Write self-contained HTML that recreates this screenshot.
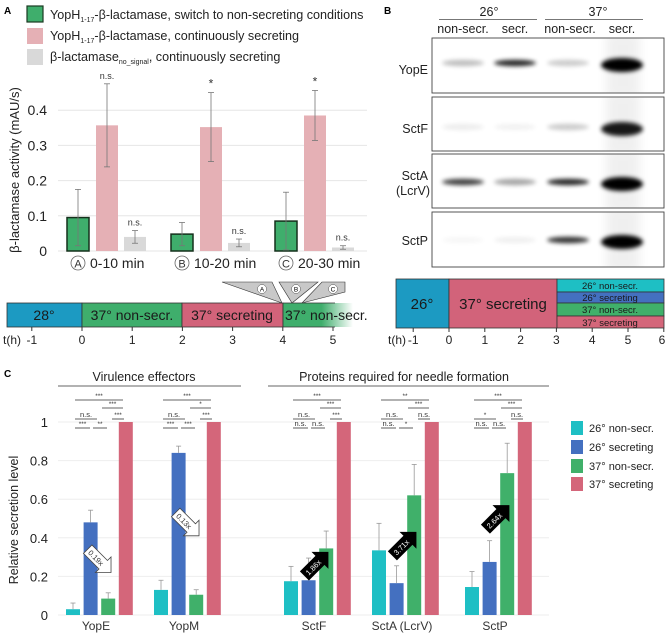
<!DOCTYPE html>
<html><head><meta charset="utf-8"><style>
body{margin:0;background:#fff}
svg{display:block;font-family:"Liberation Sans",Arial,sans-serif}
</style></head><body>
<svg id="s" width="669" height="634" viewBox="0 0 669 634" xmlns="http://www.w3.org/2000/svg">
<defs>
<filter id="bl" x="-50%" y="-200%" width="200%" height="500%"><feGaussianBlur stdDeviation="2.2"/></filter>
<filter id="bl2" x="-50%" y="-100%" width="200%" height="300%"><feGaussianBlur stdDeviation="5"/></filter>
<linearGradient id="fade" x1="0" x2="1"><stop offset="0" stop-color="#3fae6c"/><stop offset="0.55" stop-color="#3fae6c"/><stop offset="1" stop-color="#3fae6c" stop-opacity="0"/></linearGradient>
</defs>
<g id="A">
<text x="4" y="14" font-size="10" font-weight="bold">A</text>
<g>
<rect x="27" y="6" width="16" height="16" fill="#3fae6c" stroke="#1a3a22" stroke-width="1.2"/>
<text x="50" y="19" font-size="12.6" fill="#222">YopH<tspan font-size="7" dy="3">1-17</tspan><tspan dy="-3">-β-lactamase, switch to non-secreting conditions</tspan></text>
<rect x="27" y="28" width="16" height="16" fill="#e5b0b5"/>
<text x="50" y="40" font-size="12.6" fill="#222">YopH<tspan font-size="7" dy="3">1-17</tspan><tspan dy="-3">-β-lactamase, continuously secreting</tspan></text>
<rect x="27" y="49" width="16" height="16" fill="#d9d9d9"/>
<text x="50" y="61" font-size="12.6" fill="#222">β-lactamase<tspan font-size="7" dy="3">no_signal</tspan><tspan dy="-3">, continuously secreting</tspan></text>
</g>
<text transform="translate(19,170) rotate(-90)" text-anchor="middle" font-size="13" fill="#222">β-lactamase activity (mAU/s)</text>
<g id="chartA"></g>
<g id="tlA">
<polygon points="222,282 272,282 282,303" fill="#c8c8c8" stroke="#333" stroke-width="0.6"/>
<polygon points="279,282 318,282 292,303" fill="#c8c8c8" stroke="#333" stroke-width="0.6"/>
<polygon points="322,282 345,282 345,292 302,303" fill="#c8c8c8" stroke="#333" stroke-width="0.6"/>
<circle cx="262" cy="289" r="4.5" fill="#fff" stroke="#555" stroke-width="0.5"/><text x="262" y="291.5" font-size="6.5" text-anchor="middle">A</text>
<circle cx="296" cy="289" r="4.5" fill="#fff" stroke="#555" stroke-width="0.5"/><text x="296" y="291.5" font-size="6.5" text-anchor="middle">B</text>
<circle cx="333" cy="289" r="4.5" fill="#fff" stroke="#555" stroke-width="0.5"/><text x="333" y="291.5" font-size="6.5" text-anchor="middle">C</text>
<rect x="7" y="303" width="75" height="24" fill="#1c9ac2" stroke="#333" stroke-width="0.8"/>
<rect x="82" y="303" width="100" height="24" fill="#3fae6c" stroke="#333" stroke-width="0.8"/>
<rect x="182" y="303" width="101" height="24" fill="#d2637a" stroke="#333" stroke-width="0.8"/>
<rect x="283" y="303" width="70" height="24" fill="url(#fade)"/>
<line x1="283" y1="303" x2="283" y2="327" stroke="#333" stroke-width="0.8"/>
<line x1="283" y1="303" x2="335" y2="303" stroke="#333" stroke-width="0.8"/><line x1="283" y1="327" x2="335" y2="327" stroke="#333" stroke-width="0.8"/>
<g font-size="14" fill="#1a1a1a" text-anchor="middle">
<text x="44" y="320">28°</text><text x="132" y="320">37° non-secr.</text><text x="232" y="320">37° secreting</text><text x="285" y="320" text-anchor="start">37° non-secr.</text>
</g>
<g font-size="12" fill="#222" text-anchor="middle" id="tlAticks"></g>
</g>
</g>

<g id="B">
<text x="384" y="14" font-size="10" font-weight="bold">B</text>
<g font-size="12.5" fill="#222" text-anchor="middle">
<text x="489" y="16">26°</text>
<text x="598" y="16">37°</text>
<text x="463" y="33">non-secr.</text>
<text x="515" y="33">secr.</text>
<text x="570" y="33">non-secr.</text>
<text x="622" y="33">secr.</text>
</g>
<line x1="439" y1="19.5" x2="537" y2="19.5" stroke="#777"/><line x1="545" y1="19.5" x2="643" y2="19.5" stroke="#777"/>
<g id="blots"></g>
<g font-size="12.5" fill="#222" text-anchor="end">
<text x="428" y="74">YopE</text>
<text x="428" y="133">SctF</text>
<text x="428" y="180">SctA</text>
<text x="430" y="195">(LcrV)</text>
<text x="428" y="245">SctP</text>
</g>
<g>
<rect x="396" y="279" width="53" height="49" fill="#1c9ac2" stroke="#333" stroke-width="0.8"/>
<rect x="449" y="279" width="108" height="49" fill="#d2637a" stroke="#333" stroke-width="0.8"/>
<rect x="557" y="279" width="107" height="13" fill="#1ebfc4" stroke="#333" stroke-width="0.8"/>
<rect x="557" y="292" width="107" height="11" fill="#4470c0" stroke="#333" stroke-width="0.8"/>
<rect x="557" y="303" width="107" height="13" fill="#40b06a" stroke="#333" stroke-width="0.8"/>
<rect x="557" y="316" width="107" height="12" fill="#d4667a" stroke="#333" stroke-width="0.8"/>
<g font-size="15" fill="#1a1a1a" text-anchor="middle"><text x="422" y="309">26°</text><text x="503" y="309">37° secreting</text></g>
<g font-size="9.5" fill="#1a1a1a" text-anchor="middle"><text x="610" y="289">26° non-secr.</text><text x="610" y="301">26° secreting</text><text x="610" y="313">37° non-secr.</text><text x="610" y="326">37° secreting</text></g>
<g font-size="12" fill="#222" text-anchor="middle" id="tlBticks"></g>
</g>
</g>

<g id="C">
<text x="4" y="377" font-size="10" font-weight="bold">C</text>
<text x="144" y="381" font-size="12.5" text-anchor="middle" fill="#222">Virulence effectors</text>
<line x1="58" y1="386" x2="241" y2="386" stroke="#666"/>
<text x="404" y="381" font-size="12.5" text-anchor="middle" fill="#222">Proteins required for needle formation</text>
<line x1="268" y1="386" x2="549" y2="386" stroke="#666"/>
<text transform="translate(18,520) rotate(-90)" text-anchor="middle" font-size="12.5" fill="#222">Relative secretion level</text>
<g id="chartC"></g>
<g font-size="11" fill="#222" id="legC"></g>
</g>
</svg>
<script>
const NS="http://www.w3.org/2000/svg";
function mk(p,t,a,txt){const e=document.createElementNS(NS,t);for(const k in a)e.setAttribute(k,a[k]);if(txt!=null)e.textContent=txt;p.appendChild(e);return e;}

// ---- Panel A data ----
const aWindows=["0-10 min","10-20 min","20-30 min"];
const aLetters=["A","B","C"];
const aSwitch=[0.095,0.048,0.085];
const aSwitchErr=[0.08,0.033,0.082];
const aCont=[0.357,0.352,0.385];
const aContErr=[0.118,0.098,0.071];
const aNoSig=[0.04,0.023,0.01];
const aNoSigErr=[0.018,0.011,0.005];
const aContSig=["n.s.","*","*"];
const aNoSigSig=["n.s.","n.s.","n.s."];
const aTicks=[0,0.1,0.2,0.3,0.4];
const yA=v=>251-v*352;
const xA=i=>67+i*104;
const gA=document.getElementById('chartA');
aTicks.forEach(t=>{
  const l=mk(gA,'line',{x1:58,x2:367,y1:yA(t),y2:yA(t),stroke:'#e6e6e6'});
  
  
  const tx=mk(gA,'text',{x:47,y:yA(t)+5,'font-size':14,'text-anchor':'end',fill:'#222'},t===0?'0':String(t));
  
  
});
function barA(x,v,e,fill,stroke,name,sig){
  const r=mk(gA,'rect',{x:x,y:yA(v),width:22,height:yA(0)-yA(v),fill:fill});
  if(stroke){r.setAttribute('stroke',stroke);r.setAttribute('stroke-width','1.5');}
  
  
  const cx=x+11;
  mk(gA,'line',{x1:cx,x2:cx,y1:yA(v+e),y2:yA(v-e),stroke:'#777','stroke-width':0.8});
  mk(gA,'line',{x1:cx-3,x2:cx+3,y1:yA(v+e),y2:yA(v+e),stroke:'#777','stroke-width':0.8});
  mk(gA,'line',{x1:cx-3,x2:cx+3,y1:yA(v-e),y2:yA(v-e),stroke:'#777','stroke-width':0.8});
  if(sig){const s=mk(gA,'text',{x:cx,y:yA(v+e)-5,'font-size':sig==='*'?12:9,'text-anchor':'middle',fill:'#333'},sig);
    
    }
}
aWindows.forEach((w,i)=>{
  const x=xA(i);
  barA(x,aSwitch[i],aSwitchErr[i],'#3fae6c','#15301c','bar-switch-'+i,null);
  barA(x+29,aCont[i],aContErr[i],'#e5b0b5',null,'bar-continuous-'+i,aContSig[i]);
  barA(x+57,aNoSig[i],aNoSigErr[i],'#d9d9d9',null,'bar-nosignal-'+i,aNoSigSig[i]);
  const c=mk(gA,'circle',{cx:x+11,cy:263,r:7,fill:'#fff',stroke:'#666','stroke-width':0.8});
  
  
  mk(gA,'text',{x:x+11,y:267.5,'font-size':11,'text-anchor':'middle',fill:'#333'},aLetters[i]);
  const t=mk(gA,'text',{x:x+23,y:268,'font-size':14,fill:'#222'},w);
  
  
});
// timeline ticks
const tlA=document.getElementById('tlAticks');
const tlAh=[-1,0,1,2,3,4,5];
mk(tlA,'text',{x:12,y:344},'t(h)');
tlAh.forEach(h=>{const x=82+h*50.2;mk(tlA,'line',{x1:x,x2:x,y1:327,y2:331,stroke:'#333'});mk(tlA,'text',{x:x,y:344},String(h));});
const tlB=document.getElementById('tlBticks');
const tlBh=[-1,0,1,2,3,4,5,6];
mk(tlB,'text',{x:397,y:344},'t(h)');
tlBh.forEach(h=>{const x=449+h*35.8;mk(tlB,'line',{x1:x,x2:x,y1:328,y2:332,stroke:'#333'});mk(tlB,'text',{x:Math.min(x,662),y:344},String(h));});

// ---- Blots ----
const blotNames=["yope","sctf","scta","sctp"];
const boxY=[38,97,154,212];
const bandY=[63,127,182,240];
const laneX=[463,515,568,622];
const bandDark=[[0.25,0.85,0.2,1],[0.07,0.05,0.2,0.9],[0.75,0.35,0.85,1],[0.03,0.06,0.8,1]];
const gB=document.getElementById('blots');
blotNames.forEach((n,i)=>{
  const h=(i===3?55:(i===2?54:(i===1?54:55)));
  const cp=mk(gB,'clipPath',{id:'cp'+i});mk(cp,'rect',{x:432,y:boxY[i],width:232,height:h});
  const g=mk(gB,'g',{'clip-path':'url(#cp'+i+')'});
  mk(g,'rect',{x:432,y:boxY[i],width:232,height:h,fill:'#fff'});
  mk(g,'rect',{x:606,y:boxY[i]-5,width:34,height:h+10,fill:'#000',opacity:0.06,filter:'url(#bl2)'});
  bandDark[i].forEach((d,j)=>{
    const big=(j===3&&d>=0.9);
    const e=mk(g,'ellipse',{cx:laneX[j],cy:bandY[i]+(big?2:0),rx:21,ry:big?7:3.2,fill:'#000',opacity:d,filter:'url(#bl)'});
    
    
  });
  const b=mk(gB,'rect',{x:432,y:boxY[i],width:232,height:h,fill:'none',stroke:'#444','stroke-width':0.9});
  
  
});

// ---- Panel C data ----
const cCats=["YopE","YopM","SctF","SctA (LcrV)","SctP"];
const cSeries=["26° non-secr.","26° secreting","37° non-secr.","37° secreting"];
const cColors=["#1ebfc4","#4470c0","#40b06a","#d4667a"];
const c26n=[0.03,0.13,0.175,0.335,0.145];
const c26s=[0.48,0.84,0.18,0.165,0.275];
const c37n=[0.085,0.105,0.345,0.62,0.735];
const c37s=[1,1,1,1,1];
const c26nErr=[0.032,0.05,0.077,0.14,0.08];
const c26sErr=[0.063,0.035,0.115,0.09,0.11];
const c37nErr=[0.03,0.026,0.09,0.16,0.155];
const cFold=["0.19x","0.13x","1.86x","3.71x","2.64x"];
const cSig1=["***","***","***","**","***"];
const cSig2=["***","*","***","***","***"];
const cSig3a=["n.s.","n.s.","n.s.","n.s.","*"];
const cSig3b=["***","***","***","n.s.","n.s."];
const cSig4a=["***","***","n.s.","n.s.","n.s."];
const cSig4b=["**","***","n.s.","*","n.s."];
const cTicks=[0,0.2,0.4,0.6,0.8,1];
const cTickLabels=["0","0.2","0.4","0.6","0.8","1"];
const yC=v=>615-v*193;
const groupX=[66,154,284,372,465];
const gC=document.getElementById('chartC');
cTicks.forEach((t,i)=>{
  const l=mk(gC,'line',{x1:58,x2:549,y1:yC(t),y2:yC(t),stroke:'#eeeeee'});
  
  
  const tx=mk(gC,'text',{x:48,y:yC(t)+5,'font-size':13,'text-anchor':'end',fill:'#222'},cTickLabels[i]);
  
  
});
const vals=[c26n,c26s,c37n,c37s];const errs=[c26nErr,c26sErr,c37nErr,null];
cCats.forEach((cat,i)=>{
  const g0=groupX[i];const cx=k=>g0+k*17.6+7;
  for(let k=0;k<4;k++){
    const v=vals[k][i];
    const r=mk(gC,'rect',{x:g0+k*17.6,y:yC(v),width:14,height:yC(0)-yC(v),fill:cColors[k]});
    
    
    if(errs[k]){const e=errs[k][i];mk(gC,'line',{x1:cx(k),x2:cx(k),y1:yC(v),y2:yC(v+e),stroke:'#999','stroke-width':0.8});
      mk(gC,'line',{x1:cx(k)-2.5,x2:cx(k)+2.5,y1:yC(v+e),y2:yC(v+e),stroke:'#999','stroke-width':0.8});}
  }
  const t=mk(gC,'text',{x:g0+30,y:630,'font-size':12,'text-anchor':'middle',fill:'#333'},cat);
  
  
  const br=(x1,x2,y,lab)=>{mk(gC,'line',{x1:x1,x2:x2,y1:y,y2:y,stroke:'#333','stroke-width':0.8});
    const s=mk(gC,'text',{x:(x1+x2)/2,y:y-2,'font-size':lab==='n.s.'?7.5:6.5,'text-anchor':'middle',fill:'#333'},lab);
    
    };
  br(g0+9,g0+57,400,cSig1[i]);
  br(g0+36,g0+57,408,cSig2[i]);
  br(g0+9,g0+31,419,cSig3a[i]);
  br(g0+46,g0+58,419,cSig3b[i]);
  br(g0+9,g0+24,428,cSig4a[i]);
  br(g0+27,g0+41,428,cSig4b[i]);
  const up=(c37n[i]>c26s[i]);
  const ax=up?g0+32:g0+33, ay=yC((c26s[i]+c37n[i])/2)+(up&&i===3?5:0);
  const ag=mk(gC,'g',{transform:`translate(${ax},${ay}) rotate(${up?-45:45})`});
  
  
  mk(ag,'polygon',{points:'-16,-6 6,-6 6,-11 17,0 6,11 6,6 -16,6',fill:up?'#000':'#fff',stroke:up?'#000':'#444','stroke-width':0.8});
  mk(ag,'text',{x:-4,y:3,'font-size':7.5,'text-anchor':'middle',fill:up?'#fff':'#333'},cFold[i]);
});
const lg=document.getElementById('legC');
cSeries.forEach((s,k)=>{
  const y=[428,447,466,484][k];
  const r=mk(lg,'rect',{x:571,y:y-7,width:12,height:14,fill:cColors[k]});
  
  
  const t=mk(lg,'text',{x:589,y:y+4},s);
  
  
});
</script>
</body></html>
